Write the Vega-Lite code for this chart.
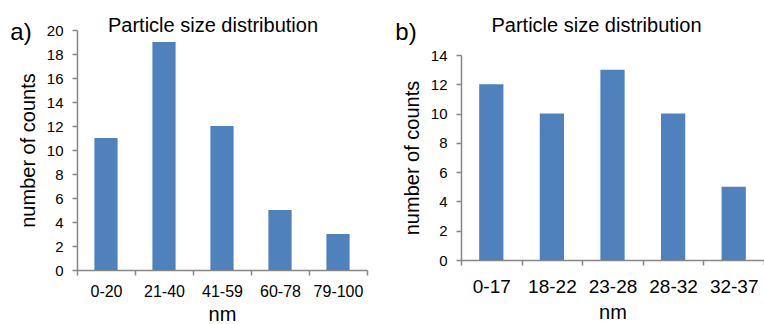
{
  "$schema": "https://vega.github.io/schema/vega-lite/v6.json",
  "padding": {"left": 10, "top": 16, "right": 0, "bottom": 0},
  "spacing": 27,
  "datasets": {
    "a": [
      {"range": "0-20", "count": 11},
      {"range": "21-40", "count": 19},
      {"range": "41-59", "count": 12},
      {"range": "60-78", "count": 5},
      {"range": "79-100", "count": 3}
    ],
    "b": [
      {"range": "0-17", "count": 12},
      {"range": "18-22", "count": 10},
      {"range": "23-28", "count": 13},
      {"range": "28-32", "count": 10},
      {"range": "32-37", "count": 5}
    ]
  },
  "config": {
    "view": {"stroke": null},
    "font": "Liberation Sans",
    "axis": {
      "domainColor": "#868686",
      "tickColor": "#868686",
      "domainWidth": 1.5,
      "tickWidth": 1.5,
      "tickSize": 5,
      "labelColor": "#000000",
      "titleColor": "#000000",
      "titleFontWeight": "normal",
      "titleFontSize": 20,
      "grid": false
    },
    "title": {"fontWeight": "normal", "fontSize": 20, "color": "#000000"}
  },
  "hconcat": [
    {
      "title": {"text": "a)", "anchor": "start", "fontSize": 24, "offset": -29, "dx": -8},
      "vconcat": [
        {
          "width": 290,
          "height": 240,
          "title": {"text": "Particle size distribution", "offset": -13, "dx": -9},
          "data": {"name": "a"},
          "mark": {"type": "bar", "color": "#4F81BD", "width": {"band": 0.4}},
          "encoding": {
            "x": {
              "field": "range", "type": "nominal", "sort": null, "title": "nm",
              "scale": {"paddingInner": 0, "paddingOuter": 0},
              "axis": {"labelAngle": 0, "tickBand": "extent", "labelFontSize": 16, "labelPadding": 8, "titlePadding": 5}
            },
            "y": {
              "field": "count", "type": "quantitative", "title": "number of counts",
              "scale": {"domain": [0, 20], "nice": false},
              "axis": {"values": [0, 2, 4, 6, 8, 10, 12, 14, 16, 18, 20], "labelFontSize": 15, "labelPadding": 9, "titlePadding": 8}
            }
          }
        }
      ]
    },
    {
      "title": {"text": "b)", "anchor": "start", "fontSize": 24, "offset": -29, "dx": -7},
      "spacing": 0,
      "vconcat": [
        {
          "width": 303,
          "height": 18,
          "title": {"text": "Particle size distribution", "offset": -6, "dx": -16},
          "data": {"values": []},
          "mark": "text",
          "encoding": {}
        },
        {
          "width": 303,
          "height": 205,
          "data": {"name": "b"},
          "mark": {"type": "bar", "color": "#4F81BD", "width": {"band": 0.4}},
          "encoding": {
            "x": {
              "field": "range", "type": "nominal", "sort": null, "title": "nm",
              "scale": {"paddingInner": 0, "paddingOuter": 0},
              "axis": {"labelAngle": 0, "tickBand": "extent", "labelFontSize": 19, "labelPadding": 12, "titlePadding": 6}
            },
            "y": {
              "field": "count", "type": "quantitative", "title": "number of counts",
              "scale": {"domain": [0, 14], "nice": false},
              "axis": {"values": [0, 2, 4, 6, 8, 10, 12, 14], "labelFontSize": 15, "labelPadding": 9, "titlePadding": 8}
            }
          }
        }
      ]
    }
  ]
}
